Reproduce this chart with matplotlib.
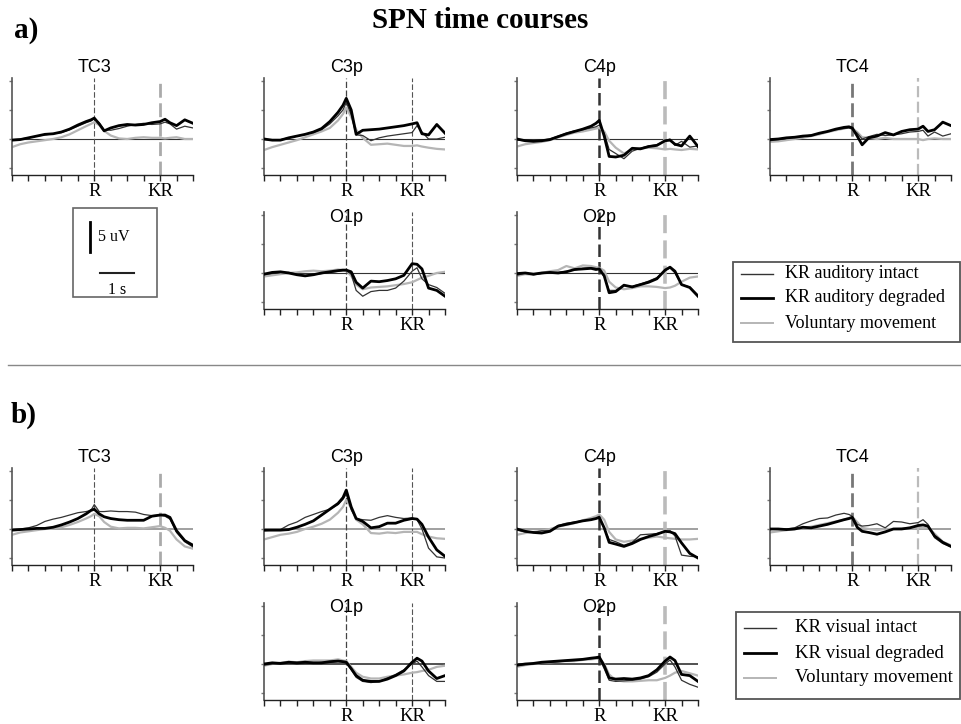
import matplotlib
matplotlib.use("Agg")
import matplotlib.pyplot as plt
from matplotlib.patches import Rectangle

# ---------------- data (uV, positive = up, time in s relative to response R) ----
time_s = [-2.5, -2.25, -2.0, -1.75, -1.5, -1.25, -1.0, -0.75, -0.5, -0.25, -0.1, 0.0,
          0.15, 0.3, 0.5, 0.75, 1.0, 1.25, 1.5, 1.75, 2.0, 2.15, 2.3, 2.5, 2.75, 3.0]
tick_times = [-2.5, -2.0, -1.5, -1.0, -0.5, 0.0, 0.5, 1.0, 1.5, 2.0, 2.5, 3.0]
tick_labels = ['', '', '', '', '', 'R', '', '', '', 'KR', '', '']
event_times = [0.0, 2.0]
channels_top = ['TC3', 'C3p', 'C4p', 'TC4']
channels_bottom = ['O1p', 'O2p']

# section a) auditory KR
a_TC3_intact = [-0.1, 0.0, 0.2, 0.5, 0.7, 0.9, 1.1, 1.6, 2.2, 2.8, 3.1, 3.5, 2.8, 1.6, 1.5, 1.8, 2.2, 2.5, 2.7, 2.5, 2.6, 2.9, 2.6, 1.7, 2.2, 1.9]
a_TC3_degraded = [-0.2, -0.1, 0.2, 0.5, 0.8, 0.9, 1.2, 1.7, 2.4, 3.0, 3.3, 3.6, 2.6, 1.4, 1.9, 2.3, 2.5, 2.4, 2.5, 2.8, 3.0, 3.4, 2.8, 2.3, 3.3, 2.7]
a_TC3_voluntary = [-1.4, -0.9, -0.6, -0.4, -0.2, 0.0, 0.3, 0.8, 1.5, 2.2, 2.6, 2.9, 2.4, 1.4, 0.6, 0.1, 0.0, 0.2, 0.3, 0.2, 0.2, 0.1, 0.2, 0.3, 0.0, 0.0]

a_C3p_intact = [-0.1, -0.2, -0.1, 0.2, 0.5, 0.8, 1.1, 1.6, 2.6, 4.0, 5.0, 6.3, 4.2, 0.7, 0.6, -0.3, 0.2, 0.5, 0.7, 0.9, 1.1, 2.3, 1.2, 0.0, 0.0, 0.3]
a_C3p_degraded = [0.0, -0.2, -0.2, 0.2, 0.5, 0.8, 1.2, 1.8, 3.0, 4.6, 5.8, 7.0, 5.0, 0.8, 1.5, 1.6, 1.7, 1.9, 2.1, 2.3, 2.6, 2.8, 0.9, 0.7, 2.5, 1.0]
a_C3p_voluntary = [-1.9, -1.4, -1.0, -0.6, -0.2, 0.3, 0.8, 1.3, 1.9, 3.2, 4.3, 5.4, 3.8, 1.6, 0.2, -1.0, -0.9, -0.8, -1.0, -1.2, -1.2, -1.1, -1.3, -1.5, -1.7, -1.8]

a_C4p_intact = [-0.2, -0.3, -0.3, -0.2, 0.0, 0.5, 1.0, 1.4, 1.6, 1.9, 2.1, 2.4, 1.0, -1.8, -2.5, -3.4, -2.1, -1.6, -1.2, -1.0, -0.3, 0.0, -1.1, -0.4, -1.4, -1.2]
a_C4p_degraded = [0.0, -0.3, -0.4, -0.3, -0.1, 0.4, 0.9, 1.3, 1.7, 2.2, 2.7, 3.2, 0.5, -3.0, -3.1, -2.8, -1.6, -1.7, -1.3, -1.1, -0.3, -0.2, -0.9, -1.2, 0.5, -1.3]
a_C4p_voluntary = [-1.3, -0.9, -0.7, -0.5, -0.2, 0.3, 0.7, 1.1, 1.3, 1.6, 1.8, 1.9, 1.3, -0.3, -1.5, -2.5, -1.8, -1.6, -1.5, -1.6, -1.8, -1.7, -1.8, -1.9, -1.7, -1.8]

a_TC4_intact = [-0.3, -0.1, 0.1, 0.3, 0.4, 0.7, 0.9, 1.3, 1.6, 1.8, 1.9, 1.7, 1.0, 0.0, 0.4, 0.8, 0.6, 0.7, 0.9, 1.2, 1.3, 1.5, 0.5, 1.2, 0.5, 0.9]
a_TC4_degraded = [-0.1, 0.0, 0.2, 0.3, 0.5, 0.6, 1.0, 1.3, 1.7, 2.0, 2.1, 1.9, 0.5, -1.0, 0.2, 0.5, 1.1, 0.7, 1.3, 1.6, 1.7, 2.2, 1.3, 1.6, 2.9, 2.3]
a_TC4_voluntary = [-0.5, -0.4, -0.2, 0.0, 0.2, 0.5, 0.8, 1.2, 1.5, 1.8, 2.0, 1.8, 1.2, 0.3, 0.2, 0.0, 0.2, 0.0, 0.0, 0.0, 0.0, -0.2, 0.0, 0.1, 0.0, 0.0]

a_O1p_intact = [-0.3, -0.1, 0.1, 0.1, -0.2, -0.4, -0.3, -0.1, 0.1, 0.3, 0.4, 0.4, -0.2, -3.0, -4.0, -3.2, -3.0, -3.0, -2.6, -1.4, 0.3, 0.9, -1.0, -2.0, -2.5, -3.5]
a_O1p_degraded = [-0.2, 0.1, 0.2, 0.0, -0.3, -0.5, -0.3, 0.0, 0.2, 0.4, 0.5, 0.5, 0.2, -1.6, -2.6, -1.4, -1.5, -1.3, -1.0, -0.4, 1.6, 1.5, 0.7, -2.6, -3.0, -4.0]
a_O1p_voluntary = [-0.6, -0.4, -0.2, 0.0, 0.1, 0.3, 0.4, 0.3, 0.4, 0.6, 0.5, 0.4, -0.5, -2.0, -2.8, -2.5, -2.4, -2.3, -2.1, -1.9, -1.6, -1.2, -0.8, -0.5, 0.0, 0.2]

a_O2p_intact = [-0.4, 0.0, -0.3, -0.1, 0.0, 0.1, 0.3, 0.5, 0.8, 0.9, 0.8, 0.6, -0.6, -3.0, -3.0, -2.2, -2.3, -1.9, -1.4, -0.8, 0.4, 0.9, 0.0, -2.0, -2.4, -3.8]
a_O2p_degraded = [-0.1, 0.0, -0.2, 0.0, 0.1, 0.0, 0.2, 0.6, 0.7, 0.8, 0.6, 0.7, -0.5, -3.4, -3.2, -2.1, -2.4, -2.0, -1.6, -1.0, 0.5, 1.0, 0.3, -2.0, -2.5, -4.0]
a_O2p_voluntary = [-0.5, -0.2, -0.3, 0.0, 0.3, 0.5, 1.2, 0.8, 1.3, 1.2, 1.0, 0.9, 0.4, -1.5, -2.5, -2.8, -2.6, -2.3, -2.3, -2.4, -2.6, -2.5, -2.2, -1.5, -0.8, -0.6]

# section b) visual KR
b_TC3_intact = [-0.1, 0.0, 0.2, 0.6, 1.3, 1.7, 2.0, 2.4, 2.8, 3.0, 3.2, 4.2, 3.0, 3.0, 3.1, 3.0, 3.0, 2.9, 2.5, 2.3, 2.4, 2.2, 1.7, -0.6, -2.2, -3.1]
b_TC3_degraded = [-0.2, -0.1, 0.0, 0.1, 0.1, 0.3, 0.7, 1.2, 1.8, 2.6, 3.2, 3.4, 2.6, 2.1, 1.8, 1.6, 1.5, 1.5, 1.5, 2.2, 2.4, 2.4, 2.0, -0.3, -2.0, -2.8]
b_TC3_voluntary = [-1.0, -0.6, -0.4, -0.2, 0.0, 0.1, 0.3, 0.7, 1.2, 1.8, 2.2, 2.6, 2.2, 1.2, 0.4, 0.1, 0.2, 0.2, 0.1, 0.3, 0.5, 0.2, -0.3, -1.8, -3.0, -3.4]

b_C3p_intact = [-0.3, -0.2, -0.1, 0.7, 1.2, 2.0, 2.5, 3.0, 3.4, 4.2, 5.1, 6.0, 3.3, 1.8, 1.6, 1.5, 2.0, 2.3, 2.0, 1.8, 1.9, 1.6, 0.0, -3.3, -4.8, -5.0]
b_C3p_degraded = [-0.2, -0.2, -0.2, -0.1, 0.3, 0.8, 1.4, 2.4, 3.4, 4.4, 5.4, 6.7, 3.8, 1.8, 1.3, 0.2, 0.4, 1.0, 1.0, 1.5, 1.8, 1.7, 0.8, -1.4, -3.6, -4.7]
b_C3p_voluntary = [-1.8, -1.4, -1.0, -0.8, -0.5, 0.0, 0.4, 0.9, 1.6, 2.8, 3.8, 5.0, 3.6, 1.6, 0.8, -0.7, -0.8, -0.6, -0.7, -0.5, -0.5, -0.5, -0.9, -1.3, -1.6, -1.7]

b_C4p_intact = [-0.2, -0.5, -0.6, -0.3, -0.3, 0.6, 1.0, 1.2, 1.4, 1.6, 1.8, 2.2, 0.0, -1.8, -2.2, -2.8, -2.3, -1.0, -0.9, -0.8, -0.4, -0.3, -1.2, -4.5, -4.7, -4.8]
b_C4p_degraded = [0.0, -0.4, -0.6, -0.7, -0.4, 0.5, 0.8, 1.1, 1.4, 1.6, 1.8, 2.0, 0.2, -2.3, -2.6, -3.0, -2.5, -1.8, -1.3, -0.9, -0.4, -0.5, -0.8, -2.4, -4.2, -5.0]
b_C4p_voluntary = [-1.0, -0.7, -0.5, -0.3, 0.0, 0.4, 0.7, 1.0, 1.5, 1.9, 2.2, 2.5, 1.6, -0.5, -1.8, -2.2, -2.0, -1.7, -1.5, -1.3, -1.5, -1.6, -1.7, -1.8, -1.8, -1.7]

b_TC4_intact = [-0.1, 0.0, 0.0, 0.2, 0.9, 1.4, 1.8, 1.9, 2.4, 2.7, 2.5, 2.2, 0.8, 0.5, 0.6, 0.9, 0.2, 1.3, 1.2, 0.9, 1.1, 1.6, 0.8, -1.5, -2.5, -3.1]
b_TC4_degraded = [0.0, 0.0, -0.1, 0.0, 0.3, 0.2, 0.5, 0.8, 1.2, 1.6, 1.8, 2.0, 0.3, -0.4, -0.6, -0.9, -0.5, 0.0, 0.0, 0.2, 0.6, 0.7, 0.5, -1.2, -2.3, -3.0]
b_TC4_voluntary = [-0.6, -0.4, -0.2, 0.0, 0.2, 0.4, 0.7, 1.0, 1.3, 1.6, 1.9, 2.1, 1.2, 0.2, 0.0, -0.2, 0.0, 0.0, 0.1, 0.2, 0.3, 0.2, 0.3, -0.8, -2.2, -2.8]

b_O1p_intact = [-0.2, 0.0, 0.1, 0.2, 0.0, 0.1, 0.1, 0.3, 0.3, 0.4, 0.4, 0.2, -1.0, -2.3, -3.0, -3.2, -3.0, -2.4, -1.8, -1.0, 0.0, 0.5, -0.5, -2.0, -3.0, -3.0]
b_O1p_degraded = [0.0, 0.2, 0.1, 0.3, 0.2, 0.3, 0.2, 0.2, 0.4, 0.5, 0.4, 0.3, -0.8, -2.0, -2.8, -3.0, -3.0, -2.6, -2.0, -1.2, 0.3, 1.0, 0.5, -1.2, -2.5, -2.0]
b_O1p_voluntary = [-0.3, 0.0, 0.2, 0.4, 0.3, 0.5, 0.6, 0.6, 0.6, 0.8, 0.6, 0.5, -0.5, -1.5, -2.2, -2.5, -2.5, -2.2, -2.0, -1.8, -1.5, -1.4, -1.2, -1.0, -0.5, -0.3]

b_O2p_intact = [-0.3, -0.1, 0.0, 0.2, 0.3, 0.4, 0.5, 0.6, 0.8, 0.9, 1.0, 0.9, -0.8, -2.8, -3.0, -2.9, -2.8, -2.6, -2.2, -1.4, 0.0, 0.7, -0.5, -2.8, -3.5, -4.0]
b_O2p_degraded = [-0.2, 0.0, 0.1, 0.3, 0.4, 0.5, 0.6, 0.7, 0.8, 1.0, 1.1, 1.2, -0.3, -2.4, -2.6, -2.5, -2.6, -2.4, -2.0, -1.0, 0.5, 1.2, 0.6, -1.8, -2.0, -3.0]
b_O2p_voluntary = [-0.5, -0.2, 0.0, 0.2, 0.3, 0.4, 0.5, 0.5, 0.7, 0.8, 0.9, 1.0, 0.0, -1.8, -2.8, -3.0, -3.0, -2.9, -2.8, -2.8, -2.4, -2.0, -1.5, -1.2, -1.6, -2.0]

legend_a = ['KR auditory intact', 'KR auditory degraded', 'Voluntary movement']
legend_b = ['KR visual intact', 'KR visual degraded', 'Voluntary movement']

# ---------------- build tables -------------------------------------------------
series = {
    'a': {'TC3': (a_TC3_intact, a_TC3_degraded, a_TC3_voluntary),
          'C3p': (a_C3p_intact, a_C3p_degraded, a_C3p_voluntary),
          'C4p': (a_C4p_intact, a_C4p_degraded, a_C4p_voluntary),
          'TC4': (a_TC4_intact, a_TC4_degraded, a_TC4_voluntary),
          'O1p': (a_O1p_intact, a_O1p_degraded, a_O1p_voluntary),
          'O2p': (a_O2p_intact, a_O2p_degraded, a_O2p_voluntary)},
    'b': {'TC3': (b_TC3_intact, b_TC3_degraded, b_TC3_voluntary),
          'C3p': (b_C3p_intact, b_C3p_degraded, b_C3p_voluntary),
          'C4p': (b_C4p_intact, b_C4p_degraded, b_C4p_voluntary),
          'TC4': (b_TC4_intact, b_TC4_degraded, b_TC4_voluntary),
          'O1p': (b_O1p_intact, b_O1p_degraded, b_O1p_voluntary),
          'O2p': (b_O2p_intact, b_O2p_degraded, b_O2p_voluntary)},
}

# ---------------- layout / style ---------------------------------------------
W, H = 961, 724
fig = plt.figure(figsize=(W / 100, H / 100), dpi=100)
fig.patch.set_facecolor('white')

col_left = [12, 264, 517, 770]
ax_w, ax_h = 181, 97
row_top = {('a', 0): 78, ('a', 1): 212, ('b', 0): 468, ('b', 1): 603}
YLIM = (-6.2, 10.5)

# event-line styles (R, KR) per channel: (color, linewidth)
event_style = {
    'TC3': [('#555555', 0.8), ('#aaaaaa', 2.0)],
    'C3p': [('#444444', 0.9), ('#555555', 0.8)],
    'C4p': [('#333333', 1.8), ('#bbbbbb', 2.6)],
    'TC4': [('#777777', 2.0), ('#bbbbbb', 1.6)],
    'O1p': [('#444444', 0.9), ('#555555', 0.8)],
    'O2p': [('#333333', 1.8), ('#bbbbbb', 2.6)],
}
zero_style = {'a': ('#333333', 0.8), 'b': ('#999999', 1.3)}

SERIF = ['Liberation Serif', 'DejaVu Serif']
SANS = ['Liberation Sans', 'DejaVu Sans']


def px_axes(left, top, w, h):
    return fig.add_axes([left / W, 1 - (top + h) / H, w / W, h / H])


def draw_panel(section, row, col, name):
    ax = px_axes(col_left[col], row_top[(section, row)], ax_w, ax_h)
    ax.set_xlim(tick_times[0], tick_times[-1])
    ax.set_ylim(*YLIM)
    zc, zw = zero_style[section]
    if section == 'b' and name in ('O1p', 'O2p'):
        zc, zw = '#333333', 1.2
    ax.axhline(0, color=zc, lw=zw, zorder=1)
    for t, (c, lw) in zip(event_times, event_style[name]):
        ax.axvline(t, color=c, lw=lw, ls=(0, (5, 2)), zorder=1)
    intact, degraded, voluntary = series[section][name]
    ax.plot(time_s, voluntary, color='#b5b5b5', lw=1.6, zorder=2)
    ax.plot(time_s, intact, color='#333333', lw=0.9, zorder=3)
    ax.plot(time_s, degraded, color='black', lw=2.0, zorder=4)
    for s in ('top', 'right'):
        ax.spines[s].set_visible(False)
    ax.spines['left'].set_color('#555555')
    ax.spines['left'].set_linewidth(1.2)
    ax.spines['bottom'].set_color('#222222')
    ax.spines['bottom'].set_linewidth(1.0)
    ax.set_xticks(tick_times)
    ax.set_xticklabels(tick_labels, fontfamily=SERIF, fontsize=13.5)
    ax.tick_params(axis='x', direction='out', length=4, width=1.0, pad=1.5, color='#222222')
    ax.set_yticks([-5, 0, 5, 10])
    ax.set_yticklabels([])
    ax.tick_params(axis='y', direction='out', length=2.5, width=1.0, color='#777777')
    ax.patch.set_alpha(0)
    x_r = col_left[col] + ax_w * (0 - tick_times[0]) / (tick_times[-1] - tick_times[0])
    return x_r


overlay = fig.add_axes([0, 0, 1, 1], zorder=10)
overlay.set_xlim(0, W)
overlay.set_ylim(H, 0)
overlay.axis('off')
overlay.patch.set_alpha(0)

title_y = {('a', 0): 68, ('a', 1): 217, ('b', 0): 457, ('b', 1): 608}
for section in ('a', 'b'):
    for col, name in enumerate(channels_top):
        xr = draw_panel(section, 0, col, name)
        overlay.text(xr, title_y[(section, 0)], name, ha='center', va='center',
                     fontfamily=SANS, fontsize=13)
    for j, name in enumerate(channels_bottom):
        xr = draw_panel(section, 1, j + 1, name)
        overlay.text(xr, title_y[(section, 1)], name, ha='center', va='center',
                     fontfamily=SANS, fontsize=13)

# main title and section labels
overlay.text(480, 20, 'SPN time courses', ha='center', va='center',
             fontfamily=SERIF, fontweight='bold', fontsize=21)
overlay.text(14, 31, 'a)', ha='left', va='center', fontfamily=SERIF,
             fontweight='bold', fontsize=21)
overlay.text(11, 415, 'b)', ha='left', va='center', fontfamily=SERIF,
             fontweight='bold', fontsize=21)

# separator
overlay.plot([8, 960], [365, 365], color='#888888', lw=1.0)

# scale box
overlay.add_patch(Rectangle((73, 208), 84, 89, fill=False, ec='#666666', lw=1.2))
overlay.plot([90, 90], [222, 252], color='black', lw=2.0)
overlay.text(98, 237, '5 uV', ha='left', va='center', fontfamily=SERIF, fontsize=11.5)
overlay.plot([100, 134], [273, 273], color='#222222', lw=1.5)
overlay.text(117, 290, '1 s', ha='center', va='center', fontfamily=SERIF, fontsize=11.5)


def draw_legend(box, rows, labels, text_x, fs):
    x0, y0, w, h = box
    overlay.add_patch(Rectangle((x0, y0), w, h, fill=False, ec='#555555', lw=1.3))
    styles = [('#333333', 1.0), ('black', 2.0), ('#b5b5b5', 1.4)]
    for y, lab, (c, lw) in zip(rows, labels, styles):
        overlay.plot([x0 + 8, x0 + 40], [y, y], color=c, lw=lw)
        overlay.text(text_x, y, lab, ha='left', va='center', fontfamily=SERIF, fontsize=fs)


draw_legend((733, 262, 227, 80), [274, 298, 323], legend_a, 785, 13)
draw_legend((736, 612, 224, 87), [628, 653, 678], legend_b, 795, 13.5)

fig.savefig('out.png', dpi=100, facecolor='white')
